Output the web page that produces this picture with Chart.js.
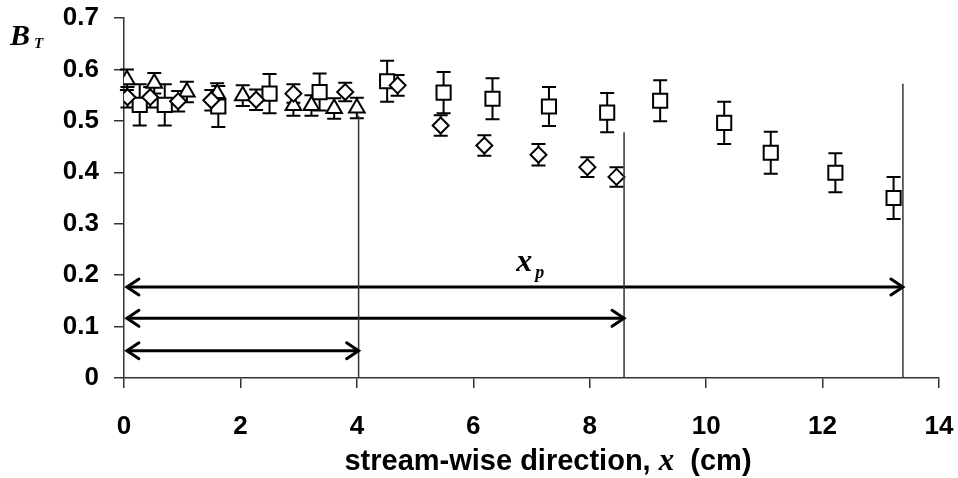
<!DOCTYPE html>
<html>
<head>
<meta charset="utf-8">
<script src="https://cdn.jsdelivr.net/npm/chart.js@4.4.0/dist/chart.umd.min.js"></script>
<style>
html, body { margin: 0; padding: 0; background: #fff; }
#wrap { width: 958px; height: 478px; }
</style>
</head>
<body>
<div id="wrap"><canvas id="btChart"></canvas></div>
<script>
// axis ticks
const xTicks = [0, 2, 4, 6, 8, 10, 12, 14];
const yTicks = [0, 0.1, 0.2, 0.3, 0.4, 0.5, 0.6, 0.7];

// triangles (first run)
const triX = [0.05, 0.52, 1.08, 1.60, 2.04, 2.91, 3.22, 3.61, 4.00];
const triY = [0.580, 0.573, 0.556, 0.553, 0.549, 0.530, 0.530, 0.524, 0.525];
const triErr = [0.02, 0.02, 0.02, 0.02, 0.02, 0.02, 0.02, 0.02, 0.02];

// diamonds (second run)
const diaX = [0.06, 0.45, 0.93, 1.50, 2.27, 2.91, 3.80, 4.70, 5.44, 6.19, 7.12, 7.96, 8.46];
const diaY = [0.546, 0.546, 0.538, 0.540, 0.541, 0.553, 0.556, 0.569, 0.491, 0.452, 0.434, 0.410, 0.391];
const diaErr = [0.02, 0.02, 0.02, 0.02, 0.02, 0.018, 0.018, 0.02, 0.02, 0.02, 0.021, 0.019, 0.019];

// squares (third run)
const sqX = [0.27, 0.70, 1.62, 2.50, 3.36, 4.52, 5.49, 6.33, 7.30, 8.30, 9.21, 10.31, 11.11, 12.22, 13.22];
const sqY = [0.531, 0.531, 0.528, 0.553, 0.556, 0.577, 0.555, 0.543, 0.528, 0.516, 0.539, 0.496, 0.438, 0.399, 0.350];
const sqErr = [0.04, 0.04, 0.04, 0.038, 0.036, 0.04, 0.04, 0.04, 0.038, 0.038, 0.04, 0.041, 0.041, 0.038, 0.041];

// penetration lengths x_p and the rows of the arrows
const xpEnds = [4.03, 8.59, 13.38];
const xpTops = [0.51, 0.478, 0.572];
const arrowRows = [0.053, 0.116, 0.177];
const arrowStart = 0.05;

function pts(xs, ys) {
    return xs.map((x, i) => ({ x: x, y: ys[i] }));
}

const markerBase = {
    type: 'scatter',
    borderColor: '#000',
    backgroundColor: '#fff',
    borderWidth: 2
};

const datasets = [];

xpEnds.forEach((xe, i) => {
    datasets.push({
        type: 'line',
        data: [{ x: xe, y: 0 }, { x: xe, y: xpTops[i] }],
        borderColor: '#333',
        borderWidth: 1.5,
        pointRadius: 0
    });
    datasets.push({
        type: 'line',
        data: [{ x: arrowStart, y: arrowRows[i] }, { x: xe, y: arrowRows[i] }],
        borderColor: '#000',
        borderWidth: 3,
        pointRadius: 0,
        arrows: true
    });
});

datasets.push(Object.assign({}, markerBase, {
    data: pts(diaX, diaY), errors: diaErr, pointStyle: 'rectRot', pointRadius: 8
}));
datasets.push(Object.assign({}, markerBase, {
    data: pts(triX, triY), errors: triErr, pointStyle: 'triangle', pointRadius: 9
}));
datasets.push(Object.assign({}, markerBase, {
    data: pts(sqX, sqY), errors: sqErr, pointStyle: 'rect', pointRadius: 10
}));

// error bars under the markers
const errorBars = {
    id: 'errorBars',
    beforeDatasetsDraw(chart) {
        const ctx = chart.ctx;
        const ys = chart.scales.y;
        ctx.save();
        ctx.strokeStyle = '#000';
        ctx.lineWidth = 2;
        chart.data.datasets.forEach((ds, i) => {
            if (!ds.errors) return;
            const meta = chart.getDatasetMeta(i);
            meta.data.forEach((p, j) => {
                const v = ds.data[j].y;
                const top = ys.getPixelForValue(v + ds.errors[j]);
                const bot = ys.getPixelForValue(v - ds.errors[j]);
                ctx.beginPath();
                ctx.moveTo(p.x, top); ctx.lineTo(p.x, bot);
                ctx.moveTo(p.x - 7, top); ctx.lineTo(p.x + 7, top);
                ctx.moveTo(p.x - 7, bot); ctx.lineTo(p.x + 7, bot);
                ctx.stroke();
            });
        });
        ctx.restore();
    }
};

// open arrow heads at both ends of the x_p lines
const arrowHeads = {
    id: 'arrowHeads',
    afterDatasetsDraw(chart) {
        const ctx = chart.ctx;
        ctx.save();
        ctx.strokeStyle = '#000';
        ctx.lineWidth = 3;
        ctx.lineCap = 'round';
        chart.data.datasets.forEach((ds, i) => {
            if (!ds.arrows) return;
            const meta = chart.getDatasetMeta(i);
            const a = meta.data[0], b = meta.data[1];
            ctx.beginPath();
            ctx.moveTo(a.x + 12, a.y - 8); ctx.lineTo(a.x, a.y); ctx.lineTo(a.x + 12, a.y + 8);
            ctx.moveTo(b.x - 12, b.y - 8); ctx.lineTo(b.x, b.y); ctx.lineTo(b.x - 12, b.y + 8);
            ctx.stroke();
        });
        ctx.restore();
    }
};

// B_T, x_p and the mixed-font x axis title
const labels = {
    id: 'labels',
    afterDraw(chart) {
        const ctx = chart.ctx;
        const xs = chart.scales.x, ys = chart.scales.y;
        ctx.save();
        ctx.fillStyle = '#000';
        ctx.textBaseline = 'alphabetic';

        ctx.font = 'italic bold 30px "Liberation Serif"';
        ctx.fillText('B', 10, 45);
        ctx.font = 'italic bold 15px "Liberation Serif"';
        ctx.fillText('T', 34, 48);

        const px = xs.getPixelForValue(6.74), py = ys.getPixelForValue(0.209);
        ctx.font = 'italic bold 32px "Liberation Serif"';
        ctx.fillText('x', px, py);
        ctx.font = 'italic bold 18px "Liberation Serif"';
        ctx.fillText('p', px + 19, py + 7);

        const parts = [
            ['stream-wise direction, ', 'bold 29px "Liberation Sans"'],
            ['x', 'italic bold 31px "Liberation Serif"'],
            ['  (cm)', 'bold 29px "Liberation Sans"']
        ];
        let w = 0;
        parts.forEach(p => { ctx.font = p[1]; w += ctx.measureText(p[0]).width; });
        let x = 548 - w / 2;
        parts.forEach(p => {
            ctx.font = p[1];
            ctx.fillText(p[0], x, 470);
            x += ctx.measureText(p[0]).width;
        });
        ctx.restore();
    }
};

const tickFont = { family: '"Liberation Sans", Arial, sans-serif', size: 26, weight: 'bold' };

new Chart(document.getElementById('btChart'), {
    type: 'scatter',
    data: { datasets: datasets },
    options: {
        responsive: true,
        maintainAspectRatio: false,
        animation: false,
        layout: { padding: { top: 18, right: 19, left: 0, bottom: 0 } },
        plugins: { legend: { display: false }, tooltip: { enabled: false } },
        scales: {
            x: {
                type: 'linear', min: 0, max: 14,
                afterBuildTicks: s => { s.ticks = xTicks.map(v => ({ value: v })); },
                afterFit: s => { s.height = 100; s.paddingLeft = 0; s.paddingRight = 0; },
                border: { color: '#333', width: 1.5 },
                grid: { drawOnChartArea: false, tickLength: 10, color: '#333', lineWidth: 1.5 },
                ticks: { color: '#000', font: tickFont, padding: 23, maxRotation: 0 }
            },
            y: {
                type: 'linear', min: 0, max: 0.7,
                afterBuildTicks: s => { s.ticks = yTicks.map(v => ({ value: v })); },
                afterFit: s => { s.width = 124; s.paddingTop = 0; s.paddingBottom = 0; },
                border: { color: '#333', width: 1.5 },
                grid: { drawOnChartArea: false, tickLength: 10, color: '#333', lineWidth: 1.5 },
                ticks: { color: '#000', font: tickFont, padding: 15, callback: v => String(+v.toFixed(1)) }
            }
        }
    },
    plugins: [errorBars, arrowHeads, labels]
});
</script>
</body>
</html>
